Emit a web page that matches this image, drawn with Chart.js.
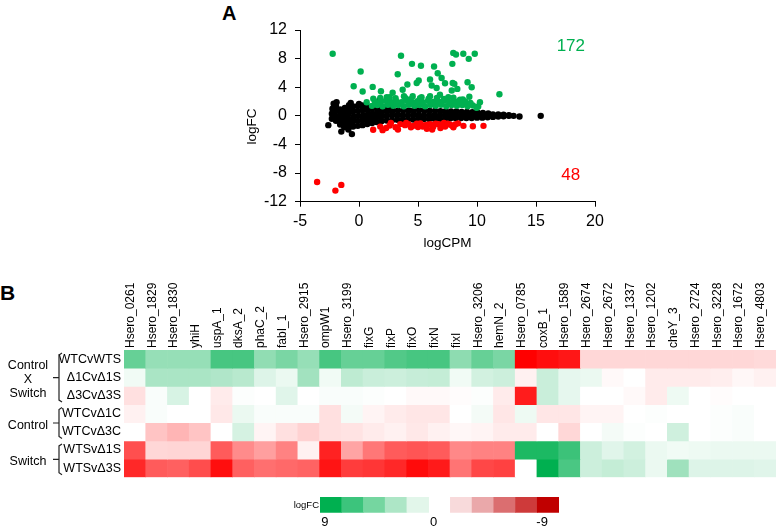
<!DOCTYPE html>
<html>
<head>
<meta charset="utf-8">
<script src="https://cdn.jsdelivr.net/npm/chart.js@4.4.1/dist/chart.umd.min.js"></script>
<style>
  html, body { margin: 0; padding: 0; background: #fff; }
  body { width: 777px; height: 530px; position: relative; overflow: hidden; font-family: "Liberation Sans", Arial, sans-serif; }
  canvas { position: absolute; }
  .tag { position: absolute; font-weight: bold; color: #000; line-height: 1; }
</style>
</head>
<body>
<div class="tag" style="left:222px;top:3px;font-size:20px;">A</div>
<div class="tag" style="left:0px;top:282px;font-size:21px;">B</div>
<canvas id="ma" width="420" height="260" style="left:200px;top:0px"></canvas>
<canvas id="heat" width="777" height="215" style="left:0px;top:270px"></canvas>
<canvas id="key" width="320" height="42" style="left:260px;top:488px"></canvas>
<script>
// ---- panel A : MA plot (logCPM, logFC) ----
var upPts = [
  [-2.23,8.67],[0.14,6.2],[-0.45,4.14],[0.31,3.4],[1.16,4.05],[1.86,3.44],[3.56,8.4],[3.28,5.82],
  [4.49,7.27],[5.25,7.0],[6.36,6.9],[6.67,5.96],[7.91,7.27],[7.99,8.8],[8.22,8.57],[8.84,8.67],
  [9.81,8.67],[9.3,7.97],[5.06,4.94],[4.89,4.6],[6.02,5.08],[6.16,4.24],[6.58,3.9],[7.0,5.3],
  [7.29,4.56],[7.94,4.6],[8.08,4.47],[8.33,3.77],[7.86,3.54],[9.2,4.7],[9.55,4.0],[9.35,2.66],
  [11.9,3.02],[10.25,1.9],[9.97,1.12],[4.1,4.38],[3.7,3.64],[2.85,3.22],[2.35,2.6],[3.81,2.74],
  [4.55,2.74],[5.17,2.46],[6.02,2.74],[6.86,2.94],[7.57,2.6],[8.56,2.24],[1.21,2.38],[0.65,1.9],
  [1.1,1.4],[1.55,1.5],[2.0,1.35],[2.45,1.55],[2.9,1.4],[3.35,1.5],[3.8,1.35],[4.25,1.55],
  [4.7,1.4],[5.15,1.5],[5.6,1.35],[6.05,1.5],[6.5,1.4],[6.95,1.55],[7.4,1.35],[7.85,1.5],
  [8.3,1.4],[8.75,1.5],[9.2,1.35],[9.65,1.45],[10.1,1.3],
  [1.35,2.0],[1.8,1.9],[2.25,2.1],[2.7,1.95],[3.15,2.05],[3.6,1.9],[4.05,2.1],[4.5,1.95],
  [4.95,2.05],[5.4,1.9],[5.85,2.1],[6.3,1.95],[6.75,2.0],[7.2,2.1],[7.65,1.9],[8.1,2.05],
  [8.55,1.85],[9.0,2.0],[9.45,1.8],
  [1.8,2.5],[2.6,2.6],[3.1,2.45],[3.9,2.55],[4.3,2.3],[5.3,2.6],[5.9,2.4],[6.6,2.5],
  [7.2,2.35],[8.0,2.55],[8.8,2.3]
];
var downPts = [
  [1.2,-1.95],[2.0,-2.0],[1.8,-1.5],[2.6,-1.35],[2.7,-1.0],[3.1,-1.6],[3.5,-1.15],[3.9,-1.3],
  [4.2,-1.15],[4.6,-1.4],[4.9,-1.1],[5.2,-1.05],[5.4,-1.5],[5.75,-1.8],[5.8,-1.25],[6.05,-1.15],
  [6.3,-1.5],[6.5,-1.1],[6.75,-1.15],[7.0,-1.35],[7.3,-1.5],[7.5,-1.1],[7.7,-1.2],[7.9,-1.4],
  [8.15,-1.2],[8.4,-1.05],[8.85,-1.4],[9.65,-1.45],[10.55,-1.4],[3.3,-1.9],[4.4,-1.6],[5.6,-1.3],
  [6.9,-1.7],[8.0,-1.6],[2.3,-1.7],[4.0,-1.0],[6.2,-1.9],[7.2,-1.0],[5.0,-1.55],
  [-3.55,-9.25],[-2.0,-10.45],[-1.5,-9.65]
];
var flatPts = [
  [-2.6,-1.3],[-2.3,-0.4],[-2.3,0.3],[-2.25,1.0],[-2.15,1.7],
  [-1.95,-0.7],[-1.95,0.0],[-1.9,0.7],[-1.95,1.4],[-1.9,1.9],
  [-1.6,-1.2],[-1.6,-0.5],[-1.55,0.2],[-1.6,0.9],[-1.5,-2.2],
  [-1.25,-1.6],[-1.25,-0.9],[-1.2,-0.2],[-1.25,0.5],[-1.2,1.1],
  [-0.9,-1.9],[-0.9,-1.2],[-0.85,-0.5],[-0.9,0.2],[-0.9,0.9],[-0.85,1.5],[-0.7,1.8],[-0.6,-2.55],
  [-0.5,-1.5],[-0.5,-0.8],[-0.45,-0.1],[-0.5,0.6],[-0.5,1.3],
  [-0.1,-1.4],[-0.1,-0.7],[-0.05,0.0],[-0.1,0.7],[-0.1,1.4],[0.0,1.65],
  [0.3,-1.3],[0.3,-0.6],[0.35,0.1],[0.3,0.8],[0.3,1.45],
  [0.7,-1.15],[0.7,-0.5],[0.75,0.2],[0.7,0.85],[0.7,1.35],
  [1.1,-1.0],[1.1,-0.35],[1.15,0.3],[1.1,0.95],[1.1,1.25],
  [1.5,-0.85],[1.5,-0.2],[1.55,0.45],[1.5,1.1],
  [1.9,-0.75],[1.9,-0.1],[1.95,0.55],[1.9,1.05],[1.75,2.2],
  [2.35,-0.65],[2.35,0.0],[2.4,0.6],[2.35,1.0],
  [2.8,-0.6],[2.8,0.05],[2.85,0.65],[2.8,0.95],
  [3.25,-0.55],[3.25,0.1],[3.3,0.75],
  [3.7,-0.55],[3.7,0.1],[3.75,0.75],
  [4.15,-0.5],[4.15,0.1],[4.2,0.75],
  [4.6,-0.5],[4.6,0.15],[4.65,0.8],
  [5.05,-0.45],[5.05,0.15],[5.1,0.8],
  [5.5,-0.45],[5.5,0.1],[5.55,0.75],
  [5.95,-0.45],[5.95,0.1],[6.0,0.7],
  [6.4,-0.4],[6.4,0.1],[6.45,0.7],
  [6.85,-0.4],[6.85,0.1],[6.9,0.65],
  [7.3,-0.4],[7.3,0.1],[7.35,0.65],
  [7.75,-0.35],[7.75,0.1],[7.8,0.6],
  [8.2,-0.35],[8.2,0.1],[8.25,0.6],
  [8.65,-0.3],[8.65,0.1],[8.7,0.55],
  [9.1,-0.3],[9.1,0.1],[9.15,0.55],
  [9.55,-0.3],[9.55,0.1],[9.6,0.5],
  [10.0,-0.25],[10.0,0.1],[10.05,0.45],
  [10.45,-0.25],[10.45,0.1],[10.5,0.4],
  [10.9,-0.2],[10.9,0.15],[10.95,0.35],
  [11.35,-0.15],[11.35,0.2],
  [11.8,-0.1],[11.8,0.2],
  [12.25,-0.05],[12.25,0.15],
  [12.7,0.0],[12.7,0.1],
  [13.1,0.0],[13.6,-0.1],[15.4,0.0]
];
var upCount = '172';
var downCount = '48';

// ---- panel B : heatmap of logFC ----
var geneNames = ['Hsero_0261','Hsero_1829','Hsero_1830','yhiH','uspA_1','dksA_2','phaC_2','fabI_1',
  'Hsero_2915','ompW1','Hsero_3199','fixG','fixP','fixO','fixN','fixI','Hsero_3206','hemN_2',
  'Hsero_0785','coxB_1','Hsero_1589','Hsero_2674','Hsero_2672','Hsero_1337','Hsero_1202','cheY_3',
  'Hsero_2724','Hsero_3228','Hsero_1672','Hsero_4803'];
var rowNames = ['WTCvWTS','\u03941Cv\u03941S','\u03943Cv\u03943S','WTCv\u03941C','WTCv\u03943C','WTSv\u03941S','WTSv\u03943S'];
var fcWTCvWTS = [5.4,3.7,3.7,3.7,6.5,6.5,3.9,4.7,3.7,6.5,5.4,5.4,6.1,6.5,6.5,4.0,5.4,4.7,-9,-8.5,-8.2,-1.4,-1.4,-1.4,-1.4,-1.4,-1.4,-1.4,-1.4,-1.3];
var fcD1CvD1S = [0.5,3.0,3.0,3.0,2.8,2.5,1.2,0.7,3.3,0.5,2.3,1.9,1.8,2.0,2.1,0.5,1.6,1.8,-0.5,1.9,0.9,0.7,-0.2,0,-0.7,-0.7,-0.7,-0.6,-0.3,-0.5];
var fcD3CvD3S = [-1.1,0.2,1.4,0,-0.7,0.1,0,1.1,0,0.2,0.2,0.1,0,-0.2,-0.2,-0.1,0.1,-0.7,-8,1.9,0.9,0,0,-0.2,-0.7,0.6,0,-0.1,0,0];
var fcWTCvD1C = [-0.5,0.2,0,0,-0.8,0.7,0.2,0.2,0.2,-1.1,0.4,-0.4,-0.7,-0.9,-0.9,0,0.4,-0.9,0.6,-0.9,-0.9,-0.4,-0.4,0,0.1,0,0,0.1,0.2,0];
var fcWTCvD3C = [0,-2.1,-2.6,-2.1,0,1.5,-0.4,-1.1,-1.6,-1.1,-1.0,-0.7,-0.5,-0.8,-0.5,-0.3,-0.4,-0.7,-0.7,0,-1.4,0,0.4,0.1,0,1.7,0,0.1,0.2,0];
var fcWTSvD1S = [-6.2,-1.4,-1.5,-1.5,-5.8,-4.1,-3.4,-4.4,-0.5,-7.8,-3.2,-4.8,-5.8,-6.0,-5.8,-4.2,-4.4,-4.4,8.0,8.0,6.9,1.8,1.1,1.6,0.7,0.5,0.6,0.7,0.7,0.7];
var fcWTSvD3S = [-7.6,-5.8,-5.6,-6.3,-8.5,-5.6,-5.1,-5.3,-5.5,-8.3,-6.9,-7.1,-7.6,-8.6,-8.1,-4.9,-6.5,-6.7,0,9.0,6.4,1.8,2.1,1.8,0.7,3.4,1.2,1.2,1.2,1.1];
var heatRows = [fcWTCvWTS, fcD1CvD1S, fcD3CvD3S, fcWTCvD1C, fcWTCvD3C, fcWTSvD1S, fcWTSvD3S];
var groups = [
  {text: ['Control', 'X', 'Switch'], from: 0, to: 3},
  {text: ['Control'], from: 3, to: 5},
  {text: ['Switch'], from: 5, to: 7}
];

// colour key
var keyLabels = ['9', '', '', '', '', '0', '', '', '', '', '-9'];
var keyColors = ['#00b050', '#3cc47c', '#75d6a0', '#ade6c6', '#e2f6ea', 'rgba(0,0,0,0)',
  '#f8dadb', '#eaa8aa', '#db6e70', '#ce3a3a', '#c00000'];

Chart.defaults.font.family = '"Liberation Sans", Arial, sans-serif';
Chart.defaults.color = '#000';

function fcColor(v) {
  var t = Math.min(Math.abs(v) / 9, 1);
  if (v >= 0) {
    return 'rgb(' + Math.round(255 - 255 * t) + ',' + Math.round(255 - 79 * t) + ',' + Math.round(255 - 175 * t) + ')';
  }
  var c = Math.round(255 - 255 * t);
  return 'rgb(255,' + c + ',' + c + ')';
}
function toXY(p) { return {x: p[0], y: p[1]}; }

var maText = {
  id: 'maText',
  afterDraw: function (chart) {
    var ctx = chart.ctx, xs = chart.scales.x, ys = chart.scales.y;
    ctx.save();
    ctx.font = '17px "Liberation Sans", Arial, sans-serif';
    ctx.textAlign = 'center';
    ctx.textBaseline = 'middle';
    ctx.fillStyle = '#00b050';
    ctx.fillText(upCount, xs.getPixelForValue(17.95), ys.getPixelForValue(9.7));
    ctx.fillStyle = '#ff0000';
    ctx.fillText(downCount, xs.getPixelForValue(17.95), ys.getPixelForValue(-8.35));
    // y axis title
    ctx.fillStyle = '#000';
    ctx.font = '13.5px "Liberation Sans", Arial, sans-serif';
    ctx.translate(52, ys.getPixelForValue(-1.5));
    ctx.rotate(-Math.PI / 2);
    ctx.fillText('logFC', 0, 0);
    ctx.restore();
  }
};

new Chart(document.getElementById('ma'), {
  type: 'scatter',
  data: {
    datasets: [
      {data: upPts.map(toXY), backgroundColor: '#00b050'},
      {data: downPts.map(toXY), backgroundColor: '#ff0000'},
      {data: flatPts.map(toXY), backgroundColor: '#000000'}
    ]
  },
  options: {
    responsive: false,
    animation: false,
    events: [],
    elements: {point: {radius: 3.2, borderWidth: 0}},
    layout: {padding: {top: 30, right: 25, left: 0, bottom: 0}},
    plugins: {legend: {display: false}, tooltip: {enabled: false}},
    scales: {
      x: {
        type: 'linear', min: -5, max: 20,
        ticks: {stepSize: 5, font: {size: 16}, padding: 5},
        grid: {drawOnChartArea: false, tickLength: 5, color: '#000'},
        border: {color: '#000'},
        title: {display: true, text: 'logCPM', font: {size: 13.5}, padding: {top: 0, bottom: 9}},
        afterFit: function (s) { s.height = 58.3; s.paddingLeft = 0; s.paddingRight = 0; }
      },
      y: {
        type: 'linear', min: -12, max: 12,
        ticks: {stepSize: 4, font: {size: 16}, padding: 8},
        grid: {drawOnChartArea: false, tickLength: 5, color: '#000'},
        border: {color: '#000'},
        afterFit: function (s) { s.width = 100; s.paddingTop = 0; s.paddingBottom = 0; }
      }
    }
  },
  plugins: [maText]
});

var groupBrackets = {
  id: 'groupBrackets',
  afterDraw: function (chart) {
    var ctx = chart.ctx, ys = chart.scales.y;
    var bx = chart.chartArea.left - 65;
    ctx.save();
    ctx.strokeStyle = '#222';
    ctx.lineWidth = 1.2;
    ctx.fillStyle = '#000';
    ctx.font = '12.5px "Liberation Sans", Arial, sans-serif';
    ctx.textAlign = 'center';
    ctx.textBaseline = 'middle';
    groups.forEach(function (g) {
      var top = ys.getPixelForValue(g.from) + 3;
      var bot = ys.getPixelForValue(g.to) - 2.5;
      var mid = (top + bot) / 2;
      ctx.beginPath();
      ctx.moveTo(bx + 3, top);
      ctx.lineTo(bx, top + 2);
      ctx.lineTo(bx, bot - 2);
      ctx.lineTo(bx + 3, bot);
      ctx.moveTo(bx, mid);
      ctx.lineTo(bx - 6, mid);
      ctx.stroke();
      var lh = 14;
      var y0 = mid + 2.5 - (g.text.length - 1) * lh / 2;
      g.text.forEach(function (t, i) {
        ctx.fillText(t, bx - 31, y0 + i * lh);
      });
    });
    ctx.restore();
  }
};

new Chart(document.getElementById('heat'), {
  type: 'bar',
  data: {
    labels: geneNames,
    datasets: heatRows.map(function (row) {
      return {
        data: row.map(function () { return 1; }),
        backgroundColor: row.map(fcColor),
        borderWidth: 0,
        barPercentage: 1,
        categoryPercentage: 1
      };
    })
  },
  options: {
    responsive: false,
    animation: false,
    events: [],
    layout: {padding: {top: 0, right: 1, left: 0, bottom: 7.7}},
    plugins: {legend: {display: false}, tooltip: {enabled: false}},
    scales: {
      x: {
        position: 'top', stacked: true,
        grid: {display: false, drawTicks: false},
        border: {display: false},
        ticks: {autoSkip: false, minRotation: 90, maxRotation: 90, font: {size: 12}, padding: 2, labelOffset: 10},
        afterFit: function (s) { s.height = 80; s.paddingLeft = 0; s.paddingRight = 0; }
      },
      y: {
        type: 'linear', stacked: true, min: 0, max: 7, reverse: true, display: false
      },
      rows: {
        type: 'category', position: 'left', labels: rowNames, offset: true,
        grid: {display: false, drawTicks: false},
        border: {display: false},
        ticks: {font: {size: 12.5}, padding: 3},
        afterFit: function (s) { s.width = 124; s.paddingTop = 0; s.paddingBottom = 0; }
      }
    }
  },
  plugins: [groupBrackets]
});

var keyTitle = {
  id: 'keyTitle',
  afterDraw: function (chart) {
    var ctx = chart.ctx, a = chart.chartArea;
    ctx.save();
    ctx.fillStyle = '#000';
    ctx.font = '9.5px "Liberation Sans", Arial, sans-serif';
    ctx.textAlign = 'right';
    ctx.textBaseline = 'middle';
    ctx.fillText('logFC', a.left - 1, (a.top + a.bottom) / 2 + 0.5);
    ctx.restore();
  }
};

new Chart(document.getElementById('key'), {
  type: 'bar',
  data: {
    labels: keyLabels,
    datasets: [{
      data: keyLabels.map(function () { return 1; }),
      backgroundColor: keyColors,
      borderWidth: 0,
      barPercentage: 1,
      categoryPercentage: 1
    }]
  },
  options: {
    responsive: false,
    animation: false,
    events: [],
    layout: {padding: {top: 9, right: 21, left: 60, bottom: 0}},
    plugins: {legend: {display: false}, tooltip: {enabled: false}},
    scales: {
      x: {
        grid: {display: false, drawTicks: false},
        border: {display: false},
        ticks: {autoSkip: false, maxRotation: 0, font: {size: 13}, padding: 1.5, labelOffset: -6},
        afterFit: function (s) { s.height = 17.3; s.paddingLeft = 0; s.paddingRight = 0; }
      },
      y: {min: 0, max: 1, display: false}
    }
  },
  plugins: [keyTitle]
});
</script>
</body>
</html>
